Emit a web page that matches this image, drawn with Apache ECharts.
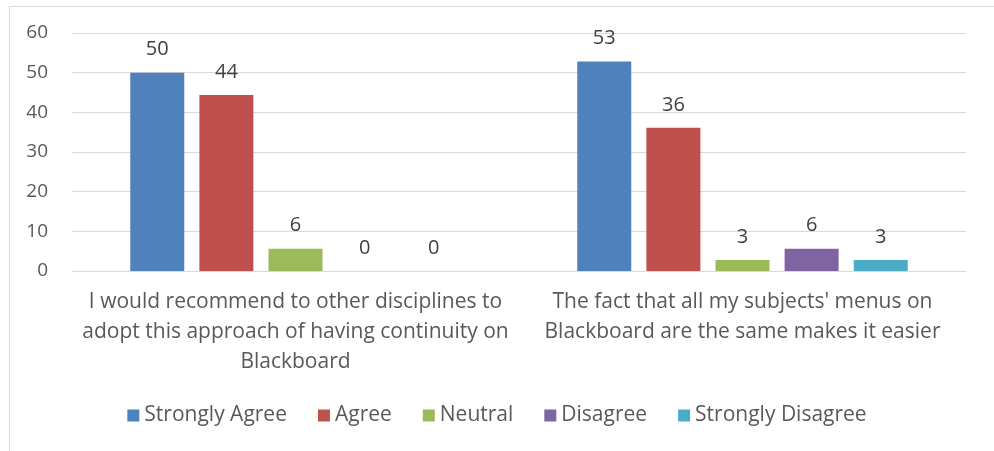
<!DOCTYPE html>
<html><head><meta charset="utf-8">
<script src="https://cdn.jsdelivr.net/npm/echarts@6/dist/echarts.min.js"></script>
<style>html,body{margin:0;padding:0;background:#fff}#c{width:994px;height:451px}</style>
</head><body><div id="c"></div>
<script>
const categories = [
  "I would recommend to other disciplines to\nadopt this approach of having continuity on\nBlackboard",
  "The fact that all my subjects' menus on\nBlackboard are the same makes it easier"
];
const seriesNames = ["Strongly Agree", "Agree", "Neutral", "Disagree", "Strongly Disagree"];
const stronglyAgree = [50, 52.8];
const agree = [44.4, 36.1];
const neutral = [5.6, 2.8];
const disagree = [0, 5.6];
const stronglyDisagree = [0, 2.8];
const colors = ["#4f81bd", "#c0504d", "#9bbb59", "#8064a2", "#4bacc6"];
const yTicks = [0, 10, 20, 30, 40, 50, 60];

const font = "'Open Sans', sans-serif";
const values = [stronglyAgree, agree, neutral, disagree, stronglyDisagree];
const chart = echarts.init(document.getElementById('c'), null, {renderer: 'canvas'});
chart.setOption({
  animation: false,
  color: colors,
  graphic: [{type: 'rect', left: 7, top: 4, shape: {width: 1000, height: 500}, style: {fill: 'none', stroke: '#d9d9d9', lineWidth: 1}, silent: true, z: -1}],
  grid: {left: 72, right: 28, top: 33, bottom: 180, containLabel: false},
  legend: {
    bottom: 20, left: 'center', itemWidth: 12, itemHeight: 12, itemGap: 31, icon: 'rect',
    textStyle: {fontFamily: font, fontSize: 21, color: '#595959'},
    data: seriesNames
  },
  xAxis: {
    type: 'category', data: categories,
    axisLine: {show: true, lineStyle: {color: '#d9d9d9'}}, axisTick: {show: false},
    axisLabel: {fontFamily: font, fontSize: 21, color: '#595959', lineHeight: 30, margin: 16, interval: 0}
  },
  yAxis: {
    type: 'value', min: yTicks[0], max: yTicks[yTicks.length - 1], interval: 10,
    axisLine: {show: false}, axisTick: {show: false},
    splitLine: {lineStyle: {color: '#d9d9d9', width: 1}},
    axisLabel: {fontFamily: font, fontSize: 19, color: '#595959', margin: 24}
  },
  series: seriesNames.map((n, i) => ({
    name: n, type: 'bar', data: values[i], barWidth: 54, barGap: '28%',
    label: {show: true, position: 'top', distance: 13, fontFamily: font, fontSize: 20, color: '#404040',
      formatter: p => String(Math.round(p.value))}
  }))
});
</script></body></html>
